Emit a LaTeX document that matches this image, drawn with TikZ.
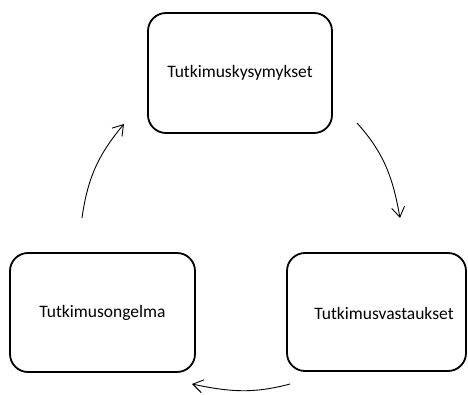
\documentclass[tikz,border=0pt]{standalone}
\usepackage{fontspec}
\setmainfont{Carlito}
\usetikzlibrary{arrows.meta}
\begin{document}
\begin{tikzpicture}[x=1pt,y=1pt,
  box/.style={draw=black, line width=1.8pt, rounded corners=18pt, fill=white},
  lbl/.style={font=\fontsize{17.5}{21}\selectfont, inner sep=0pt},
  conn/.style={line width=0.9pt, -{Straight Barb[length=10pt,width=13pt,line width=0.9pt]}}]
\useasboundingbox (0,0) rectangle (468,394);
% boxes
\node[box, minimum width=184pt, minimum height=120pt] (top) at (240,321) {};
\node[box, minimum width=185pt, minimum height=119pt] (left) at (102.5,81.5) {};
\node[box, minimum width=179pt, minimum height=118pt] (right) at (376.5,82) {};
% labels
\node[lbl] (ttop) at (240,321) {Tutkimuskysymykset};
\node[lbl] (tleft) at (102.5,81) {Tutkimusongelma};
\node[lbl] (tright) at (384,81) {Tutkimusvastaukset};
% arrow end points
\coordinate (a1s) at (357,271);
\coordinate (a1e) at (400,176);
\coordinate (a2s) at (290,10);
\coordinate (a2e) at (192,10);
\coordinate (a3s) at (82,176);
\coordinate (a3e) at (124,270);
\draw[conn] (a1s) to[out=-48,in=100] (a1e);
\draw[conn] (a2s) to[out=195,in=-12] (a2e);
\draw[conn] (a3s) to[out=82,in=230] (a3e);
\end{tikzpicture}
\end{document}
